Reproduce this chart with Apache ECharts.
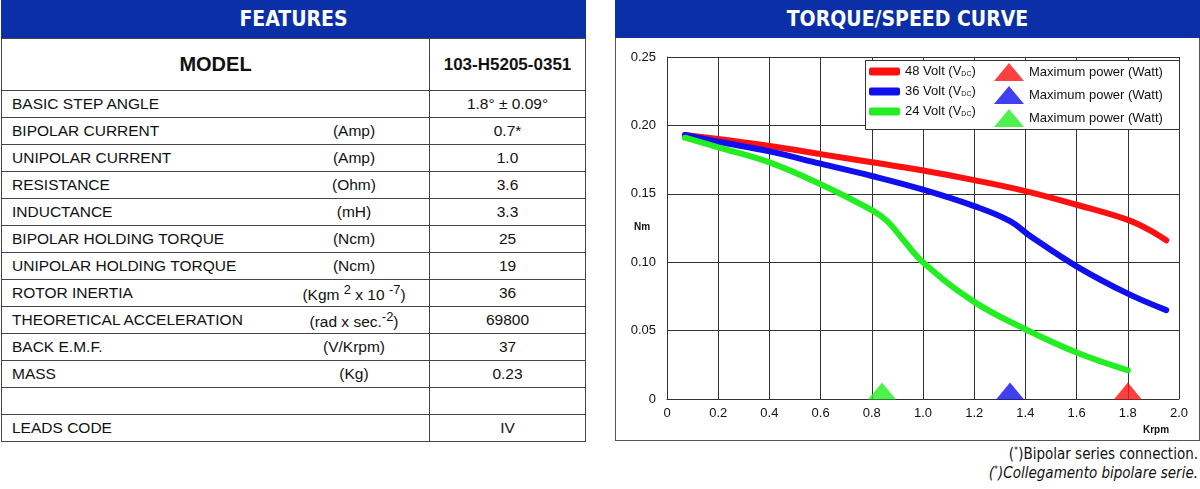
<!DOCTYPE html>
<html lang="en">
<head>
<meta charset="UTF-8">
<title>103-H5205-0351</title>
<script src="https://cdn.jsdelivr.net/npm/echarts@6/dist/echarts.min.js"></script>
<style>
    body { margin: 0; width: 1200px; height: 489px; background: #fff; font-family: "Liberation Sans", Arial, sans-serif; position: relative; overflow: hidden; }
    .head { position: absolute; top: 0; height: 38px; background: #0a2fa6; color: #fff; font-family: "DejaVu Sans Condensed", "DejaVu Sans", sans-serif; font-weight: bold; font-size: 21px; line-height: 38px; text-align: center; }
    table { position: absolute; left: 1px; top: 38px; width: 585px; border-collapse: collapse; font-size: 15.5px; color: #111; }
    td { border: 1px solid #444; height: 26px; padding: 0; }
    td.n { padding-left: 10px; border-right: none; }
    td.u { text-align: center; border-left: none; width: 150px; }
    td.v { text-align: center; width: 155px; }
    tr.model td { height: 51px; font-weight: bold; font-size: 20px; text-align: center; }
    tr.model td.v { font-size: 17px; }
    #chart { position: absolute; left: 615px; top: 38px; width: 585px; height: 403px; box-sizing: border-box; border: 1px solid #555; border-top: none; }
    .note { position: absolute; right: 2px; font-family: "DejaVu Sans Condensed", "DejaVu Sans", sans-serif; font-size: 15px; color: #111; }
    .note sup { font-size: 9px; }
</style>
</head>
<body>
<div class="head" style="left:1px;width:585px">FEATURES</div>
<div class="head" style="left:615px;width:585px">TORQUE/SPEED CURVE</div>
<table id="feat"></table>
<div id="chart"></div>
<div class="note" style="top:445px">(<sup>*</sup>)Bipolar series connection.</div>
<div class="note" style="top:464px;font-style:italic">(<sup>*</sup>)Collegamento bipolare serie.</div>
<script>
// features table
const featNames = ['BASIC STEP ANGLE', 'BIPOLAR CURRENT', 'UNIPOLAR CURRENT', 'RESISTANCE', 'INDUCTANCE',
    'BIPOLAR HOLDING TORQUE', 'UNIPOLAR HOLDING TORQUE', 'ROTOR INERTIA', 'THEORETICAL ACCELERATION',
    'BACK E.M.F.', 'MASS', '', 'LEADS CODE'];
const featUnits = ['', '(Amp)', '(Amp)', '(Ohm)', '(mH)', '(Ncm)', '(Ncm)', '(Kgm <sup>2</sup> x 10 <sup>-7</sup>)',
    '(rad x sec.<sup>-2</sup>)', '(V/Krpm)', '(Kg)', '', ''];
const featValues = ['1.8° ± 0.09°', '0.7*', '1.0', '3.6', '3.3', '25', '19', '36', '69800', '37', '0.23', '', 'IV'];

// torque/speed curves, x = Krpm, y = Nm
const curve48 = [[0.07,0.193],[0.2,0.190],[0.4,0.185],[0.6,0.179],[0.8,0.173],[1.0,0.167],[1.2,0.160],
    [1.4,0.152],[1.6,0.142],[1.8,0.131],[1.88,0.124],[1.95,0.116]];
const curve36 = [[0.07,0.193],[0.2,0.188],[0.4,0.181],[0.6,0.172],[0.8,0.163],[1.0,0.153],[1.2,0.141],
    [1.34,0.130],[1.42,0.119],[1.6,0.097],[1.8,0.077],[1.95,0.065]];
const curve24 = [[0.07,0.191],[0.2,0.184],[0.4,0.173],[0.6,0.157],[0.8,0.138],[0.86,0.130],[0.92,0.117],
    [1.0,0.100],[1.2,0.071],[1.4,0.051],[1.6,0.034],[1.8,0.021]];
const maxPower = { '48': 1.80, '36': 1.34, '24': 0.84 };

let html = '<tr class="model"><td colspan="2">MODEL</td><td class="v">103-H5205-0351</td></tr>';
featNames.forEach((n, i) => {
    html += `<tr><td class="n">${n}</td><td class="u">${featUnits[i]}</td><td class="v">${featValues[i]}</td></tr>`;
});
document.getElementById('feat').innerHTML = html;

const chart = echarts.init(document.getElementById('chart'));
const red = '#ff1010', blue = '#1010ee', green = '#22ee22';
const lineSeries = (name, data, color) => ({
    name, type: 'line', data, smooth: 0.4, showSymbol: false, z: 2,
    lineStyle: { width: 6, color, cap: 'round' }, itemStyle: { color }
});
const triSeries = (name, x, color) => ({
    name, type: 'scatter', data: [[x, 0]], symbol: 'triangle', symbolSize: [28, 17],
    symbolOffset: [0, -8], itemStyle: { color }, z: 3
});
const rich = { s: { fontSize: 7, verticalAlign: 'bottom', padding: [6, 0, 0, 0] } };

chart.setOption({
    animation: false,
    grid: { left: 51, right: 20, top: 19, bottom: 41 },
    xAxis: {
        type: 'value', min: 0, max: 2, interval: 0.2,
        axisLine: { lineStyle: { color: '#333' } }, axisTick: { show: false },
        splitLine: { lineStyle: { color: '#333' } },
        axisLabel: { color: '#111', fontSize: 13, formatter: v => v === 0 ? '0' : v.toFixed(1) }
    },
    yAxis: {
        type: 'value', min: 0, max: 0.25, interval: 0.05,
        axisLine: { show: true, lineStyle: { color: '#333' } }, axisTick: { show: false },
        splitLine: { lineStyle: { color: '#333' } },
        axisLabel: { color: '#111', fontSize: 13, margin: 11, formatter: v => v === 0 ? '0' : v.toFixed(2) }
    },
    graphic: [
        { type: 'rect', left: 249, top: 22, shape: { width: 314, height: 69 }, z: 3,
          style: { fill: '#fff', stroke: '#333', lineWidth: 1 } },
        { type: 'text', left: 18, top: 184, z: 5, style: { text: 'Nm', font: 'bold 10px Liberation Sans', fill: '#111' } },
        { type: 'text', left: 527, top: 387, z: 5, style: { text: 'Krpm', font: 'bold 10px Liberation Sans', fill: '#111' } }
    ],
    legend: [
        { data: ['48', '36', '24'], orient: 'vertical', left: 253, top: 27, itemGap: 7, padding: 0,
          icon: 'roundRect', itemWidth: 31, itemHeight: 8, z: 4, itemStyle: { borderWidth: 0 },
          formatter: n => n + ' Volt (V{s|DC})',
          textStyle: { fontSize: 13, color: '#111', rich } },
        { data: ['p48', 'p36', 'p24'], orient: 'vertical', left: 378, top: 25, itemGap: 5, padding: 0,
          icon: 'triangle', itemWidth: 30, itemHeight: 18, z: 4,
          formatter: () => 'Maximum power (Watt)',
          textStyle: { fontSize: 13, color: '#111' } }
    ],
    series: [
        lineSeries('48', curve48, red),
        lineSeries('36', curve36, blue),
        lineSeries('24', curve24, green),
        triSeries('p48', maxPower['48'], red),
        triSeries('p36', maxPower['36'], blue),
        triSeries('p24', maxPower['24'], green)
    ]
});
</script>
</body>
</html>
